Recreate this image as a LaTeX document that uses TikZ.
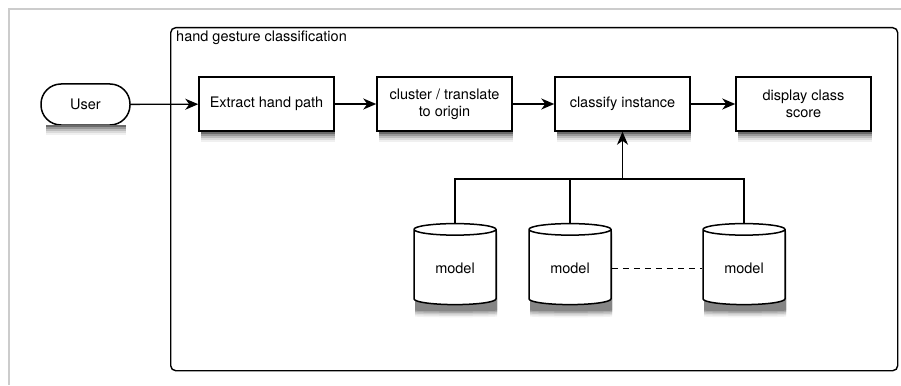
\documentclass[tikz,border=0pt]{standalone}
\usepackage{fontspec}
\setmainfont{TeX Gyre Heros}
\usetikzlibrary{shapes.geometric,arrows.meta,positioning}
\tikzset{
  boxshape/.style={shape=rectangle,minimum width=135pt,minimum height=54pt},
  usershape/.style={shape=rectangle,rounded corners=20pt,minimum width=89pt,minimum height=41pt},
  dbshape/.style={shape=cylinder,shape border rotate=90,aspect=0.25,minimum width=82pt,minimum height=81pt},
  procbox/.style={boxshape,draw,line width=1.5pt,fill=white,align=center,inner sep=2pt},
  userbox/.style={usershape,draw,line width=1.5pt,fill=white},
  modeldb/.style={dbshape,draw,line width=1.5pt,fill=white},
  wire/.style={line width=1.3pt},
  link/.style={wire,-{Stealth[length=13pt,width=11pt,inset=4pt]}}
}
\begin{document}
\begin{tikzpicture}[x=1pt,y=-1pt,font=\fontsize{14.5}{17}\selectfont]
\useasboundingbox (0,0) rectangle (901,385);
% page frame
\draw[black!20,line width=2pt] (901,9) -| (9,385);
% container
\node[draw,rounded corners=5pt,line width=1.4pt,minimum width=727pt,minimum height=343pt,anchor=north west,inner sep=0pt] (hgc) at (170,27) {};
\node[anchor=north west,inner sep=0pt] (title) at (176,31) {hand gesture classification};
% cylinder shadows
\foreach \dd/\cc in {9/5,7.5/12,6/22,4.5/34,3/48}
  \foreach \xx in {455,570,744}
    \node[dbshape,fill=black!\cc] at (\xx+1,268.5+\dd) {};
% main row
\node[userbox] (user) at (85.5,104.5) {User};
\node[procbox] (extract) at (266.5,104) {Extract hand path};
\node[procbox] (cluster) at (444.5,104) {cluster / translate\\to origin};
\node[procbox] (classify) at (622.5,104) {classify instance};
\node[procbox] (display) at (803.5,104) {display class\\score};
% box shadows, below the boxes
\foreach \dd/\cc in {10/6,8/14,6/26,4/40,2/58}{
  \foreach \xx in {266.5,444.5,622.5,803.5}
    \fill[black!\cc] (\xx-65.5,131.8) rectangle (\xx+68,131.8+\dd);
  \fill[black!\cc] (46,125.3) rectangle (126,125.3+\dd);
}
\draw[link] (user) -- (extract);
\draw[link] (extract) -- (cluster);
\draw[link] (cluster) -- (classify);
\draw[link] (classify) -- (display);
% models
\node[modeldb] (m1) at (455,268.5) {model};
\node[modeldb] (m2) at (570,268.5) {model};
\node[modeldb] (m3) at (744,268.5) {model};
\coordinate (bus) at (622.5,179);
\draw[wire] (m1.north) |- (bus) -| (m3.north);
\draw[wire] (m2.north) -- (m2.north |- bus);
\draw[link] (bus) -- (classify.south);
\draw[wire,dash pattern=on 6pt off 5pt] (m2.east) -- (m3.west);
\end{tikzpicture}
\end{document}
